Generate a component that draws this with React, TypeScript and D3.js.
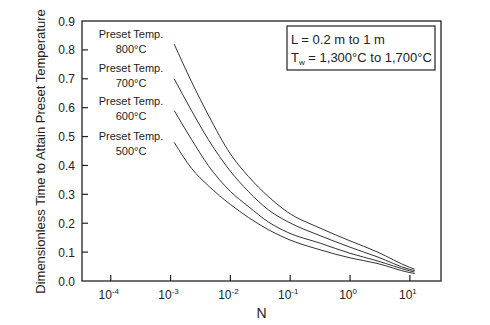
import React from "react";
import * as d3 from "d3";

const N_VALUES = [0.00115, 0.00224, 0.00427, 0.01, 0.02, 0.0427, 0.0912, 0.316, 1, 2.82, 10, 12];
const T800 = [0.82, 0.69, 0.575, 0.44, 0.362, 0.293, 0.238, 0.183, 0.139, 0.101, 0.047, 0.041];
const T700 = [0.70, 0.59, 0.49, 0.38, 0.31, 0.247, 0.205, 0.157, 0.117, 0.084, 0.040, 0.036];
const T600 = [0.59, 0.49, 0.40, 0.31, 0.258, 0.205, 0.168, 0.131, 0.096, 0.07, 0.035, 0.031];
const T500 = [0.48, 0.39, 0.33, 0.265, 0.22, 0.178, 0.145, 0.108, 0.08, 0.061, 0.029, 0.026];
const SERIES = [T800, T700, T600, T500];
const SERIES_LABELS = ["800°C", "700°C", "600°C", "500°C"];
const X_TICK_EXP = ["-4", "-3", "-2", "-1", "0", "1"];
const X_TICKS = [1e-4, 1e-3, 1e-2, 1e-1, 1, 10];
const Y_TICKS = [0, 0.1, 0.2, 0.3, 0.4, 0.5, 0.6, 0.7, 0.8, 0.9];

const W = 490, H = 325;
const M = { left: 82, right: 441, top: 21, bottom: 281 };
const FONT = "'Liberation Sans', Arial, sans-serif";
const INK = "#222";

export default function App() {
  const x = d3.scaleLog().domain([Math.pow(10, -4.48), Math.pow(10, 1.52)]).range([M.left, M.right]);
  const y = d3.scaleLinear().domain([0, 0.9]).range([M.bottom, M.top]);
  const line = d3
    .line<number>()
    .x((_, i) => x(N_VALUES[i]))
    .y((d) => y(d))
    .curve(d3.curveMonotoneX);
  const labelTops = [38, 72, 105, 140];
  return (
    <svg width={W} height={H} style={{ position: "absolute", left: 0, top: 0, background: "#fff" }} fontFamily={FONT}>
      <rect x={M.left} y={M.top} width={M.right - M.left} height={M.bottom - M.top} fill="none" stroke={INK} strokeWidth={1.3} />
      {Y_TICKS.map((t) => (
        <g key={"y" + t}>
          {t > 0 && t < 0.9 && <line x1={M.left} x2={M.left + 6} y1={y(t)} y2={y(t)} stroke={INK} strokeWidth={1.2} />}
          <text x={75} y={y(t) + 4.5} textAnchor="end" fontSize={12} fill={INK}>
            {t.toFixed(1)}
          </text>
        </g>
      ))}
      {X_TICKS.map((t, i) => (
        <g key={"x" + i}>
          <line x1={x(t)} x2={x(t)} y1={M.bottom} y2={M.bottom - 6} stroke={INK} strokeWidth={1.2} />
          <text x={x(t) - 2} y={299} textAnchor="middle" fontSize={12} fill={INK}>
            10
            <tspan fontSize={8} dy={-5}>{X_TICK_EXP[i]}</tspan>
          </text>
        </g>
      ))}
      <text x={(M.left + M.right) / 2} y={318} textAnchor="middle" fontSize={14} fill={INK}>
        N
      </text>
      <text
        transform={`translate(45, 151.5) rotate(-90)`}
        textAnchor="middle"
        fontSize={13}
        fill={INK}
      >
        Dimensionless Time to Attain Preset Temperature
      </text>
      {SERIES.map((s, i) => (
        <path key={"s" + i} d={line(s) || ""} fill="none" stroke="#333" strokeWidth={1} />
      ))}
      {SERIES_LABELS.map((lab, i) => (
        <g key={"l" + i}>
          <text x={131} y={labelTops[i]} textAnchor="middle" fontSize={11} fill={INK}>
            Preset Temp.
          </text>
          <text x={131} y={labelTops[i] + 14.5} textAnchor="middle" fontSize={11} fill={INK}>
            {lab}
          </text>
        </g>
      ))}
      <rect x={287} y={26} width={148} height={44} fill="#fff" stroke={INK} strokeWidth={1.2} />
      <text x={291} y={44} fontSize={13} fill={INK}>
        L = 0.2 m to 1 m
      </text>
      <text x={291} y={62} fontSize={13} fill={INK}>
        T<tspan fontSize={8} dy={3}>w</tspan>
        <tspan dy={-3}> = 1,300°C to 1,700°C</tspan>
      </text>
    </svg>
  );
}
